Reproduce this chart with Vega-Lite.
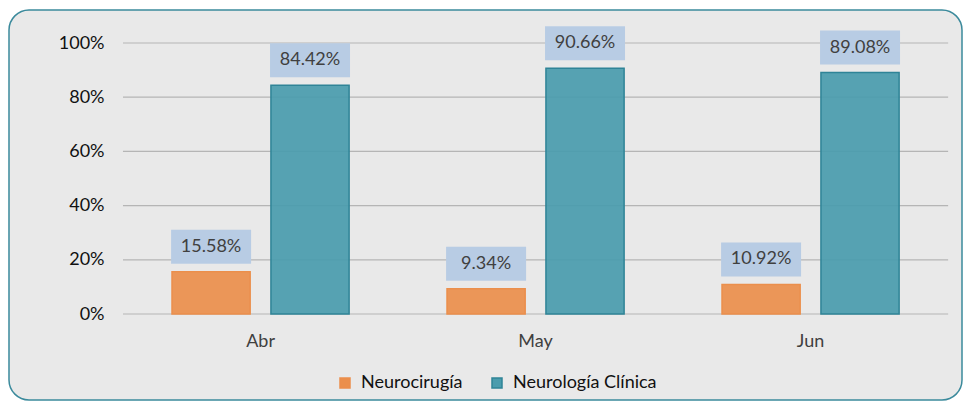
{
  "$schema": "https://vega.github.io/schema/vega-lite/v6.json",
  "autosize": {"type": "none"},
  "padding": {"left": 9, "top": 10, "right": 6, "bottom": 1},
  "width": 953,
  "height": 390,
  "background": "#ffffff",
  "config": {
    "view": {"fill": "#e9e9e9", "stroke": "#3b8a9c", "strokeWidth": 1.5, "cornerRadius": 20},
    "font": "Lato"
  },
  "datasets": {
    "bars": [
      {"mes": "Abr", "serie": "Neurocirugía", "valor": 0.1558, "etiqueta": "15.58%"},
      {"mes": "Abr", "serie": "Neurología Clínica", "valor": 0.8442, "etiqueta": "84.42%"},
      {"mes": "May", "serie": "Neurocirugía", "valor": 0.0934, "etiqueta": "9.34%"},
      {"mes": "May", "serie": "Neurología Clínica", "valor": 0.9066, "etiqueta": "90.66%"},
      {"mes": "Jun", "serie": "Neurocirugía", "valor": 0.1092, "etiqueta": "10.92%"},
      {"mes": "Jun", "serie": "Neurología Clínica", "valor": 0.8908, "etiqueta": "89.08%"}
    ],
    "grid": [
      {"v": 0, "desde": "Abr", "hasta": "Jun"},
      {"v": 0.2, "desde": "Abr", "hasta": "Jun"},
      {"v": 0.4, "desde": "Abr", "hasta": "Jun"},
      {"v": 0.6, "desde": "Abr", "hasta": "Jun"},
      {"v": 0.8, "desde": "Abr", "hasta": "Jun"},
      {"v": 1.0, "desde": "Abr", "hasta": "Jun"}
    ]
  },
  "layer": [
    {
      "data": {"name": "grid"},
      "mark": {"type": "rule", "color": "#b5b5b5", "strokeWidth": 1.2},
      "encoding": {
        "x": {"field": "desde", "type": "nominal", "bandPosition": -0.2768,
              "scale": {"domain": ["Abr", "May", "Jun"], "paddingInner": 0.356, "paddingOuter": 0.4107, "align": 0.7216},
              "axis": {"orient": "bottom", "offset": -86, "domain": false, "ticks": false, "title": null, "labelAngle": 0,
                       "labelFont": "Lato", "labelFontSize": 18, "labelColor": "#404040", "labelPadding": 18}},
        "x2": {"field": "hasta", "bandPosition": 1.2768},
        "y": {"field": "v", "type": "quantitative",
              "scale": {"domain": [-0.3173, 1.1218], "nice": false, "zero": false},
              "axis": {"orient": "left", "offset": -105, "values": [0, 0.2, 0.4, 0.6, 0.8, 1], "format": ".0%",
                       "domain": false, "ticks": false, "grid": false, "title": null,
                       "labelFont": "Lato", "labelFontSize": 18, "labelColor": "#111111", "labelPadding": 10}}
      }
    },
    {
      "data": {"name": "bars"},
      "mark": {"type": "bar", "strokeWidth": 1.5, "fillOpacity": 0.93},
      "encoding": {
        "x": {"field": "mes", "type": "nominal"},
        "xOffset": {"field": "serie", "type": "nominal",
                    "scale": {"domain": ["Neurocirugía", "Neurología Clínica"], "paddingInner": 0.21, "paddingOuter": 0}},
        "y": {"field": "valor", "type": "quantitative"},
        "y2": {"datum": 0},
        "color": {"field": "serie", "type": "nominal",
                  "scale": {"domain": ["Neurocirugía", "Neurología Clínica"], "range": ["#eb8f4c", "#4a9cad"]},
                  "legend": {"orient": "none", "legendX": 327, "legendY": 364, "direction": "horizontal", "title": null,
                             "symbolType": "square", "symbolSize": 100, "symbolOpacity": 1,
                             "labelFont": "Lato", "labelFontSize": 18, "labelColor": "#111111",
                             "labelOffset": 7, "columnPadding": 25}},
        "stroke": {"field": "serie", "type": "nominal",
                   "scale": {"domain": ["Neurocirugía", "Neurología Clínica"], "range": ["#eb8f4c", "#2f8497"]},
                   "legend": null}
      }
    },
    {
      "data": {"name": "bars"},
      "mark": {"type": "point", "shape": "M-40,-17L40,-17L40,17L-40,17Z", "size": 4, "filled": true, "fill": "#b8cce4", "opacity": 1, "strokeWidth": 0, "yOffset": -25},
      "encoding": {
        "x": {"field": "mes", "type": "nominal"},
        "xOffset": {"field": "serie", "type": "nominal"},
        "y": {"field": "valor", "type": "quantitative"}
      }
    },
    {
      "data": {"name": "bars"},
      "mark": {"type": "text", "font": "Lato", "fontSize": 18, "color": "#404040", "baseline": "middle", "align": "center", "dy": -25},
      "encoding": {
        "x": {"field": "mes", "type": "nominal"},
        "xOffset": {"field": "serie", "type": "nominal"},
        "y": {"field": "valor", "type": "quantitative"},
        "text": {"field": "etiqueta"}
      }
    }
  ]
}
